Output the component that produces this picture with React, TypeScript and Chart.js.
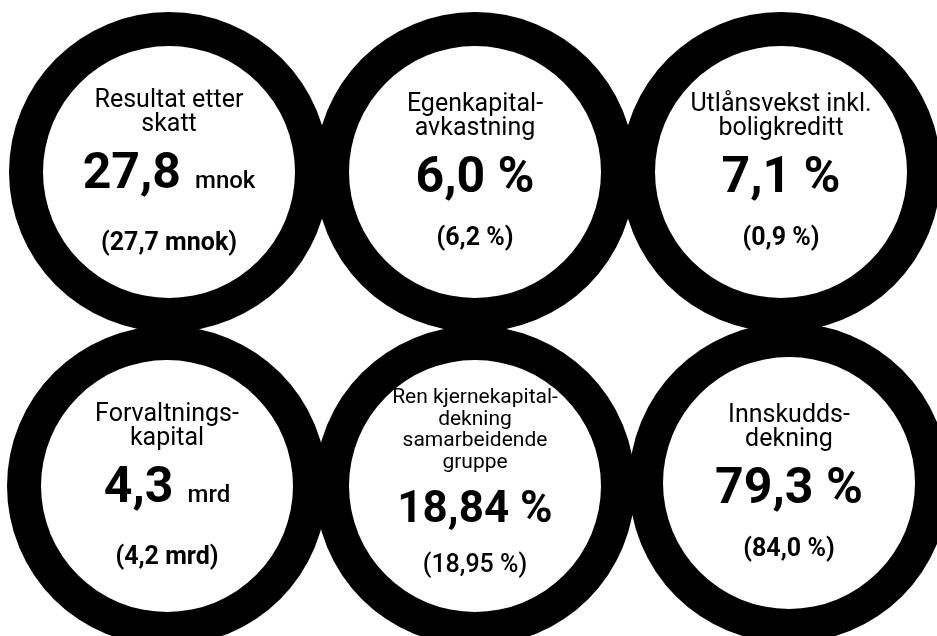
import React, { useEffect, useRef } from "react";
import { Chart, registerables } from "chart.js";

Chart.register(...registerables);

// ---- data ----
const ringShares = [100, 100, 100, 100, 100, 100];
const titleLines: string[][] = [
  ["Resultat etter", "skatt"],
  ["Egenkapital-", "avkastning"],
  ["Utlånsvekst inkl.", "boligkreditt"],
  ["Forvaltnings-", "kapital"],
  ["Ren kjernekapital-", "dekning", "samarbeidende", "gruppe"],
  ["Innskudds-", "dekning"],
];
const currentValues = ["27,8", "6,0", "7,1", "4,3", "18,84", "79,3"];
const units = ["mnok", "%", "%", "mrd", "%", "%"];
const previousValues = ["27,7", "6,2", "0,9", "4,2", "18,95", "84,0"];

// ---- layout (positions / sizes only) ----
const ringCenters: [number, number][] = [
  [169, 172],
  [475, 172],
  [781, 172],
  [167, 486],
  [475, 486],
  [789, 483],
];
const OUTER_R = 160;
const INNER_R = 126;
const FONT = "Roboto, 'Noto Sans', sans-serif";

function Ring({ index }: { index: number }) {
  const ref = useRef<HTMLCanvasElement | null>(null);
  useEffect(() => {
    if (!ref.current) return;
    const chart = new Chart(ref.current, {
      type: "doughnut",
      data: {
        labels: [titleLines[index].join(" ")],
        datasets: [
          {
            data: [ringShares[index]],
            backgroundColor: ["#000000"],
            borderWidth: 0,
            hoverOffset: 0,
            offset: 0,
          } as any,
        ],
      },
      options: {
        responsive: false,
        maintainAspectRatio: false,
        animation: false,
        events: [],
        cutout: INNER_R,
        layout: { padding: 0 },
        plugins: {
          legend: { display: false },
          tooltip: { enabled: false },
        },
      } as any,
    });
    return () => chart.destroy();
  }, [index]);
  const [cx, cy] = ringCenters[index];
  return (
    <canvas
      ref={ref}
      width={OUTER_R * 2}
      height={OUTER_R * 2}
      style={{
        position: "absolute",
        left: cx - OUTER_R,
        top: cy - OUTER_R,
        width: OUTER_R * 2,
        height: OUTER_R * 2,
        zIndex: 1,
      }}
    />
  );
}

function Label({ index }: { index: number }) {
  const [cx, cy] = ringCenters[index];
  const lines = titleLines[index];
  const compact = lines.length > 2;
  const titleSize = compact ? 21 : 25;
  const titleLH = compact ? 21.5 : 24;
  const bigSize = compact ? 44 : 50;
  const subSize = 25;
  const unit = units[index];
  const bigUnit = unit === "%";
  const offsetY = compact ? -5 : -2;
  return (
    <div
      style={{
        position: "absolute",
        left: cx - 150,
        top: cy - 150 + offsetY,
        width: 300,
        height: 300,
        display: "flex",
        flexDirection: "column",
        alignItems: "center",
        justifyContent: "center",
        fontFamily: FONT,
        color: "#000",
        zIndex: 2,
        textAlign: "center",
      }}
    >
      {lines.map((l, i) => (
        <div
          key={i}
          style={{ fontSize: titleSize, lineHeight: titleLH + "px", fontWeight: 400, whiteSpace: "nowrap" }}
        >
          {l}
        </div>
      ))}
      <div
        style={{
          marginTop: compact ? 13 : 11,
          fontSize: bigSize,
          lineHeight: bigSize + "px",
          fontWeight: 700,
          whiteSpace: "nowrap",
        }}
      >
        {currentValues[index]}
        {bigUnit ? (
          <span> {unit}</span>
        ) : (
          <span style={{ fontSize: 24, fontWeight: 500, marginLeft: 8 }}> {unit}</span>
        )}
      </div>
      <div
        style={{
          marginTop: compact ? 22 : 24,
          fontSize: subSize,
          lineHeight: subSize + "px",
          fontWeight: compact ? 500 : 700,
          whiteSpace: "nowrap",
        }}
      >
        ({previousValues[index]} {unit})
      </div>
    </div>
  );
}

export default function App() {
  return (
    <div
      style={{
        position: "fixed",
        left: 0,
        top: 0,
        width: 937,
        height: 636,
        overflow: "hidden",
        background: "#ffffff",
      }}
    >
      {ringShares.map((_, i) => (
        <Ring key={"r" + i} index={i} />
      ))}
      {ringShares.map((_, i) => (
        <Label key={"l" + i} index={i} />
      ))}
    </div>
  );
}
